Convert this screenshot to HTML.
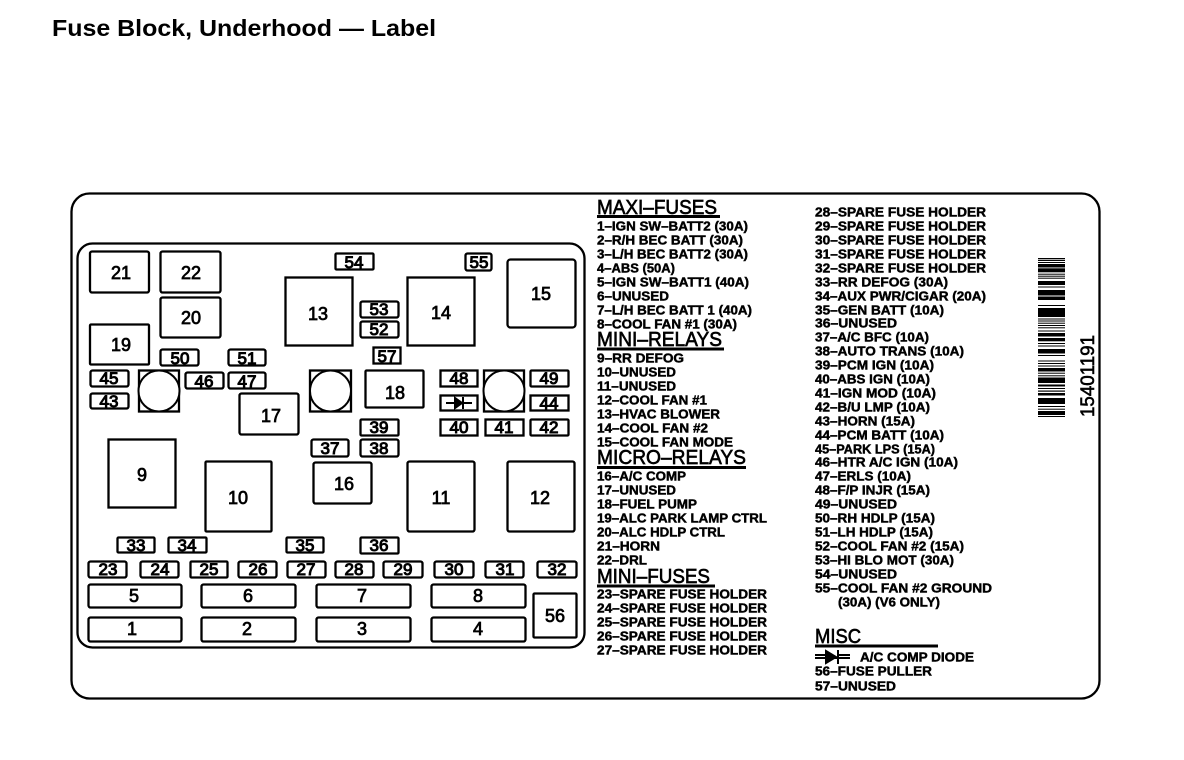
<!DOCTYPE html>
<html><head><meta charset="utf-8"><style>
html,body{margin:0;padding:0;background:#fff}
svg{display:block}
text{font-family:"Liberation Sans",sans-serif;fill:#000}
.t{font-weight:bold;font-size:23px}
.l{font-size:13px;font-weight:bold;stroke:#000;stroke-width:.45px}
.h{font-size:20px;stroke:#000;stroke-width:.65px}
.n{font-size:18px;text-anchor:middle;stroke:#000;stroke-width:.75px}
.s{font-size:17px;text-anchor:middle;stroke:#000;stroke-width:1px}
.b rect{fill:#fff;stroke:#000;stroke-width:2.3}
</style></head><body>
<svg width="1184" height="760" viewBox="0 0 1184 760" xmlns="http://www.w3.org/2000/svg">
<text class="t" x="52" y="36" textLength="384" lengthAdjust="spacingAndGlyphs">Fuse Block, Underhood — Label</text>
<g fill="none" stroke="#000" stroke-width="2.3">
<rect x="71.5" y="193.5" width="1028" height="505" rx="18"/>
<rect x="77.5" y="243.5" width="507" height="404" rx="15"/>
</g>
<g class="b">
<rect x="90" y="251.5" width="59" height="41" rx="2"/>
<rect x="160.5" y="251.5" width="60" height="41" rx="2"/>
<rect x="160.5" y="297.5" width="60" height="40" rx="2"/>
<rect x="90" y="324.5" width="59" height="40" rx="1"/>
<rect x="160.5" y="349.5" width="38" height="16" rx="2"/>
<rect x="228.5" y="349.5" width="37" height="16" rx="2"/>
<rect x="90.5" y="370.5" width="38" height="16" rx="2"/>
<rect x="90.5" y="393.5" width="38" height="15" rx="2"/>
<rect x="185.5" y="372.5" width="38" height="16" rx="2"/>
<rect x="228.5" y="372.5" width="37" height="16" rx="2"/>
<rect x="239.5" y="393.5" width="59" height="41" rx="2"/>
<rect x="285.5" y="277.5" width="67" height="68"/>
<rect x="335.5" y="253.5" width="38" height="16" rx="1"/>
<rect x="465.5" y="253.5" width="26" height="17" rx="2"/>
<rect x="507.5" y="259.5" width="68" height="68" rx="3"/>
<rect x="360.5" y="301.5" width="38" height="16" rx="2"/>
<rect x="360.5" y="321.5" width="38" height="16" rx="2"/>
<rect x="407.5" y="277.5" width="67" height="68"/>
<rect x="373.5" y="347.5" width="27" height="16"/>
<rect x="365.5" y="370.5" width="58" height="37" rx="1"/>
<rect x="440.5" y="370.5" width="37" height="16"/>
<rect x="440.5" y="395.5" width="37" height="15"/>
<rect x="440.5" y="419.5" width="37" height="16"/>
<rect x="530.5" y="370.5" width="38" height="16" rx="1"/>
<rect x="530.5" y="395.5" width="38" height="15"/>
<rect x="485.5" y="419.5" width="38" height="16"/>
<rect x="530.5" y="419.5" width="38" height="16" rx="1"/>
<rect x="360.5" y="419.5" width="38" height="16" rx="1"/>
<rect x="360.5" y="439.5" width="38" height="17" rx="2"/>
<rect x="311.5" y="439.5" width="37" height="17" rx="2"/>
<rect x="108.5" y="439.5" width="67" height="68"/>
<rect x="205.5" y="461.5" width="66" height="70" rx="1"/>
<rect x="313.5" y="462.5" width="58" height="41" rx="2"/>
<rect x="407.5" y="461.5" width="67" height="70" rx="2"/>
<rect x="507.5" y="461.5" width="67" height="70" rx="2"/>
<rect x="117.5" y="537.5" width="37" height="15" rx="1"/>
<rect x="168.5" y="537.5" width="38" height="15" rx="1"/>
<rect x="286.5" y="537.5" width="37" height="15" rx="1"/>
<rect x="360.5" y="537.5" width="38" height="16" rx="1"/>
<rect x="88.5" y="561.5" width="38" height="16" rx="2"/>
<rect x="140.5" y="561.5" width="38" height="16" rx="2"/>
<rect x="190.5" y="561.5" width="37" height="16" rx="1"/>
<rect x="238.5" y="561.5" width="38" height="16" rx="2"/>
<rect x="287.5" y="561.5" width="38" height="16" rx="2"/>
<rect x="335.5" y="561.5" width="38" height="16" rx="2"/>
<rect x="383.5" y="561.5" width="39" height="16" rx="2"/>
<rect x="434.5" y="561.5" width="39" height="16" rx="2"/>
<rect x="485.5" y="561.5" width="38" height="16" rx="2"/>
<rect x="537.5" y="561.5" width="39" height="16" rx="2"/>
<rect x="88.5" y="584.5" width="93" height="23" rx="2"/>
<rect x="201.5" y="584.5" width="94" height="23" rx="2"/>
<rect x="316.5" y="584.5" width="94" height="23" rx="2"/>
<rect x="431.5" y="584.5" width="94" height="23" rx="2"/>
<rect x="88.5" y="617.5" width="93" height="24" rx="2"/>
<rect x="201.5" y="617.5" width="94" height="24" rx="2"/>
<rect x="316.5" y="617.5" width="94" height="24" rx="2"/>
<rect x="431.5" y="617.5" width="94" height="24" rx="2"/>
<rect x="533.5" y="593.5" width="43" height="44" rx="1"/>
</g>
<!-- circle sockets -->
<g fill="none" stroke="#000" stroke-width="2.3">
<rect x="139" y="370.5" width="40" height="41"/><circle cx="159" cy="391" r="20.5" fill="#fff" stroke-width="2"/>
<rect x="310" y="370.5" width="41" height="41"/><circle cx="330.5" cy="391" r="20.5" fill="#fff" stroke-width="2"/>
<rect x="484" y="370.5" width="40" height="41"/><circle cx="504" cy="391" r="20.5" fill="#fff" stroke-width="2"/>
</g>
<!-- diode in box -->
<g stroke="#000" stroke-width="2" fill="#000">
<path d="M446 403H472" fill="none"/><path d="M455 398L462 403L455 408Z"/><path d="M463 397V409" fill="none"/>
</g>
<!-- box numbers -->
<g class="n">
<text x="121" y="279">21</text><text x="191" y="279">22</text><text x="191" y="324">20</text><text x="121" y="351">19</text>
<text x="318" y="320">13</text><text x="441" y="319">14</text><text x="541" y="300">15</text><text x="395" y="399">18</text>
<text x="271" y="422">17</text><text x="142" y="481">9</text><text x="238" y="504">10</text><text x="344" y="490">16</text>
<text x="441" y="504">11</text><text x="540" y="504">12</text>
<text x="134" y="602">5</text><text x="248" y="602">6</text><text x="362" y="602">7</text><text x="478" y="602">8</text>
<text x="132" y="635">1</text><text x="247" y="635">2</text><text x="362" y="635">3</text><text x="478" y="635">4</text>
<text x="555" y="622">56</text>
</g>
<g class="s">
<text x="180" y="364">50</text><text x="247" y="364">51</text><text x="109" y="384">45</text><text x="109" y="407">43</text>
<text x="204" y="387">46</text><text x="247" y="387">47</text><text x="354" y="268">54</text><text x="479" y="268">55</text>
<text x="379" y="315">53</text><text x="379" y="335">52</text><text x="387" y="362">57</text>
<text x="459" y="384">48</text><text x="459" y="433">40</text><text x="549" y="384">49</text><text x="549" y="409">44</text>
<text x="504" y="433">41</text><text x="549" y="433">42</text><text x="379" y="433">39</text><text x="379" y="454">38</text><text x="330" y="454">37</text>
<text x="136" y="551">33</text><text x="187" y="551">34</text><text x="305" y="551">35</text><text x="379" y="551">36</text>
<text x="108" y="575">23</text><text x="160" y="575">24</text><text x="209" y="575">25</text><text x="258" y="575">26</text><text x="306" y="575">27</text>
<text x="354" y="575">28</text><text x="403" y="575">29</text><text x="454" y="575">30</text><text x="505" y="575">31</text><text x="557" y="575">32</text>
</g>
<!-- headings -->
<g class="h">
<text x="597" y="214" textLength="120" lengthAdjust="spacingAndGlyphs">MAXI–FUSES</text>
<text x="597" y="346" textLength="125" lengthAdjust="spacingAndGlyphs">MINI–RELAYS</text>
<text x="597" y="464" textLength="149" lengthAdjust="spacingAndGlyphs">MICRO–RELAYS</text>
<text x="597" y="583" textLength="113" lengthAdjust="spacingAndGlyphs">MINI–FUSES</text>
<text x="815" y="643" textLength="46" lengthAdjust="spacingAndGlyphs">MISC</text>
</g>
<g stroke="#000" stroke-width="3">
<path d="M597 216.5H720M597 349H724M597 467.5H746M597 586H715M815 646H938"/>
</g>
<g class="l" transform="translate(0 -0.5)">
<text x="597" y="231" textLength="151" lengthAdjust="spacingAndGlyphs">1–IGN SW–BATT2 (30A)</text>
<text x="597" y="245" textLength="146" lengthAdjust="spacingAndGlyphs">2–R/H BEC BATT (30A)</text>
<text x="597" y="259" textLength="151" lengthAdjust="spacingAndGlyphs">3–L/H BEC BATT2 (30A)</text>
<text x="597" y="273" textLength="78" lengthAdjust="spacingAndGlyphs">4–ABS (50A)</text>
<text x="597" y="287" textLength="152" lengthAdjust="spacingAndGlyphs">5–IGN SW–BATT1 (40A)</text>
<text x="597" y="301" textLength="72" lengthAdjust="spacingAndGlyphs">6–UNUSED</text>
<text x="597" y="315" textLength="155" lengthAdjust="spacingAndGlyphs">7–L/H BEC BATT 1 (40A)</text>
<text x="597" y="329" textLength="140" lengthAdjust="spacingAndGlyphs">8–COOL FAN #1 (30A)</text>
<text x="597" y="363" textLength="87" lengthAdjust="spacingAndGlyphs">9–RR DEFOG</text>
<text x="597" y="377" textLength="79" lengthAdjust="spacingAndGlyphs">10–UNUSED</text>
<text x="597" y="391" textLength="79" lengthAdjust="spacingAndGlyphs">11–UNUSED</text>
<text x="597" y="405" textLength="110" lengthAdjust="spacingAndGlyphs">12–COOL FAN #1</text>
<text x="597" y="419" textLength="123" lengthAdjust="spacingAndGlyphs">13–HVAC BLOWER</text>
<text x="597" y="433" textLength="111" lengthAdjust="spacingAndGlyphs">14–COOL FAN #2</text>
<text x="597" y="447" textLength="136" lengthAdjust="spacingAndGlyphs">15–COOL FAN MODE</text>
<text x="597" y="481" textLength="89" lengthAdjust="spacingAndGlyphs">16–A/C COMP</text>
<text x="597" y="495" textLength="79" lengthAdjust="spacingAndGlyphs">17–UNUSED</text>
<text x="597" y="509" textLength="100" lengthAdjust="spacingAndGlyphs">18–FUEL PUMP</text>
<text x="597" y="523" textLength="170" lengthAdjust="spacingAndGlyphs">19–ALC PARK LAMP CTRL</text>
<text x="597" y="537" textLength="128" lengthAdjust="spacingAndGlyphs">20–ALC HDLP CTRL</text>
<text x="597" y="551" textLength="63" lengthAdjust="spacingAndGlyphs">21–HORN</text>
<text x="597" y="565" textLength="50" lengthAdjust="spacingAndGlyphs">22–DRL</text>
<text x="597" y="599" textLength="170" lengthAdjust="spacingAndGlyphs">23–SPARE FUSE HOLDER</text>
<text x="597" y="613" textLength="170" lengthAdjust="spacingAndGlyphs">24–SPARE FUSE HOLDER</text>
<text x="597" y="627" textLength="170" lengthAdjust="spacingAndGlyphs">25–SPARE FUSE HOLDER</text>
<text x="597" y="641" textLength="170" lengthAdjust="spacingAndGlyphs">26–SPARE FUSE HOLDER</text>
<text x="597" y="655" textLength="170" lengthAdjust="spacingAndGlyphs">27–SPARE FUSE HOLDER</text>
<text x="815" y="217" textLength="171" lengthAdjust="spacingAndGlyphs">28–SPARE FUSE HOLDER</text>
<text x="815" y="231" textLength="171" lengthAdjust="spacingAndGlyphs">29–SPARE FUSE HOLDER</text>
<text x="815" y="245" textLength="171" lengthAdjust="spacingAndGlyphs">30–SPARE FUSE HOLDER</text>
<text x="815" y="259" textLength="171" lengthAdjust="spacingAndGlyphs">31–SPARE FUSE HOLDER</text>
<text x="815" y="273" textLength="171" lengthAdjust="spacingAndGlyphs">32–SPARE FUSE HOLDER</text>
<text x="815" y="287" textLength="133" lengthAdjust="spacingAndGlyphs">33–RR DEFOG (30A)</text>
<text x="815" y="301" textLength="171" lengthAdjust="spacingAndGlyphs">34–AUX PWR/CIGAR (20A)</text>
<text x="815" y="315" textLength="129" lengthAdjust="spacingAndGlyphs">35–GEN BATT (10A)</text>
<text x="815" y="328" textLength="82" lengthAdjust="spacingAndGlyphs">36–UNUSED</text>
<text x="815" y="342" textLength="114" lengthAdjust="spacingAndGlyphs">37–A/C BFC (10A)</text>
<text x="815" y="356" textLength="149" lengthAdjust="spacingAndGlyphs">38–AUTO TRANS (10A)</text>
<text x="815" y="370" textLength="119" lengthAdjust="spacingAndGlyphs">39–PCM IGN (10A)</text>
<text x="815" y="384" textLength="115" lengthAdjust="spacingAndGlyphs">40–ABS IGN (10A)</text>
<text x="815" y="398" textLength="121" lengthAdjust="spacingAndGlyphs">41–IGN MOD (10A)</text>
<text x="815" y="412" textLength="115" lengthAdjust="spacingAndGlyphs">42–B/U LMP (10A)</text>
<text x="815" y="426" textLength="100" lengthAdjust="spacingAndGlyphs">43–HORN (15A)</text>
<text x="815" y="440" textLength="129" lengthAdjust="spacingAndGlyphs">44–PCM BATT (10A)</text>
<text x="815" y="454" textLength="120" lengthAdjust="spacingAndGlyphs">45–PARK LPS (15A)</text>
<text x="815" y="467" textLength="143" lengthAdjust="spacingAndGlyphs">46–HTR A/C IGN (10A)</text>
<text x="815" y="481" textLength="96" lengthAdjust="spacingAndGlyphs">47–ERLS (10A)</text>
<text x="815" y="495" textLength="115" lengthAdjust="spacingAndGlyphs">48–F/P INJR (15A)</text>
<text x="815" y="509" textLength="82" lengthAdjust="spacingAndGlyphs">49–UNUSED</text>
<text x="815" y="523" textLength="120" lengthAdjust="spacingAndGlyphs">50–RH HDLP (15A)</text>
<text x="815" y="537" textLength="118" lengthAdjust="spacingAndGlyphs">51–LH HDLP (15A)</text>
<text x="815" y="551" textLength="149" lengthAdjust="spacingAndGlyphs">52–COOL FAN #2 (15A)</text>
<text x="815" y="565" textLength="139" lengthAdjust="spacingAndGlyphs">53–HI BLO MOT (30A)</text>
<text x="815" y="579" textLength="82" lengthAdjust="spacingAndGlyphs">54–UNUSED</text>
<text x="815" y="593" textLength="177" lengthAdjust="spacingAndGlyphs">55–COOL FAN #2 GROUND</text>
<text x="838" y="607" textLength="102" lengthAdjust="spacingAndGlyphs">(30A) (V6 ONLY)</text>
<text x="860" y="662" textLength="114" lengthAdjust="spacingAndGlyphs">A/C COMP DIODE</text>
<text x="815" y="676" textLength="117" lengthAdjust="spacingAndGlyphs">56–FUSE PULLER</text>
<text x="815" y="691" textLength="81" lengthAdjust="spacingAndGlyphs">57–UNUSED</text>
</g>
<!-- MISC diode -->
<g stroke="#000" stroke-width="2" fill="#000">
<path d="M815 658H850M815 655H828M838 655H850" fill="none"/><path d="M826 651L836 657L826 663Z"/><path d="M838 650V664" fill="none"/>
</g>
<!-- barcode -->
<g fill="#000">
<rect x="1038" y="258" width="27" height="1.3"/><rect x="1038" y="260" width="27" height="1"/><rect x="1038" y="262" width="27" height="1"/><rect x="1038" y="264" width="27" height="3.5"/>
<rect x="1038" y="268.3" width="27" height="4"/><rect x="1038" y="273.7" width="27" height="1"/><rect x="1038" y="275.7" width="27" height="1"/><rect x="1038" y="277.7" width="27" height="1"/>
<rect x="1038" y="281" width="27" height="4"/><rect x="1038" y="286.5" width="27" height="1"/><rect x="1038" y="290" width="27" height="5.5"/><rect x="1038" y="296.5" width="27" height="3.5"/>
<rect x="1038" y="305" width="27" height="1"/><rect x="1038" y="308" width="27" height="9"/><rect x="1038" y="318.5" width="27" height="1"/><rect x="1038" y="320.5" width="27" height="1"/>
<rect x="1038" y="322.7" width="27" height="1"/><rect x="1038" y="325" width="27" height="1"/><rect x="1038" y="327.3" width="27" height="1"/><rect x="1038" y="330.5" width="27" height="1"/>
<rect x="1038" y="333" width="27" height="3.5"/><rect x="1038" y="338" width="27" height="3.3"/><rect x="1038" y="343" width="27" height="1"/><rect x="1038" y="345.5" width="27" height="1"/>
<rect x="1038" y="349" width="27" height="4.5"/><rect x="1038" y="355" width="27" height="1"/><rect x="1038" y="360.5" width="27" height="1"/><rect x="1038" y="363" width="27" height="1"/>
<rect x="1038" y="365.5" width="27" height="1"/><rect x="1038" y="368" width="27" height="3.5"/><rect x="1038" y="372.7" width="27" height="1"/><rect x="1038" y="375.3" width="27" height="1"/>
<rect x="1038" y="377.5" width="27" height="5.5"/><rect x="1038" y="384.5" width="27" height="2"/><rect x="1038" y="388" width="27" height="1"/><rect x="1038" y="390.5" width="27" height="1.2"/>
<rect x="1038" y="393" width="27" height="2.5"/><rect x="1038" y="398" width="27" height="6"/><rect x="1038" y="406" width="27" height="1"/><rect x="1038" y="408.7" width="27" height="1"/>
<rect x="1038" y="411" width="27" height="4"/><rect x="1038" y="416" width="27" height="1"/>
</g>
<text transform="translate(1094 417) rotate(-90)" font-size="19" stroke="#000" stroke-width=".6" textLength="82" lengthAdjust="spacingAndGlyphs">15401191</text>
</svg>
</body></html>
